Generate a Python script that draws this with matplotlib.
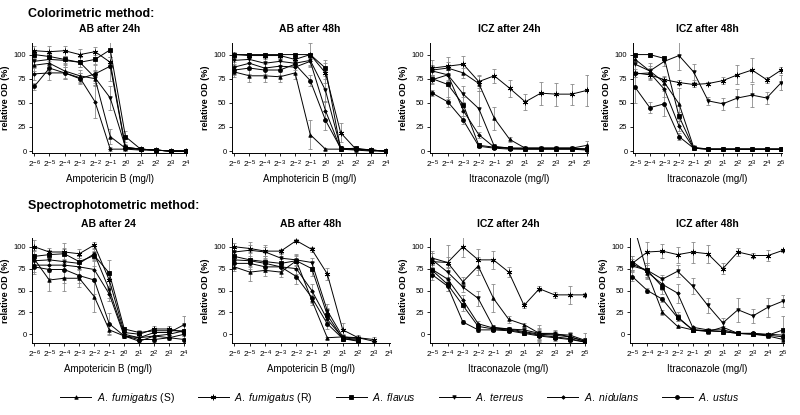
import matplotlib
matplotlib.use("Agg")
import matplotlib.pyplot as plt
import numpy as np
from matplotlib.lines import Line2D

plt.rcParams["font.family"] = ["Liberation Sans", "DejaVu Sans"]
plt.rcParams["mathtext.fontset"] = "custom"
plt.rcParams["mathtext.rm"] = "Liberation Sans"
plt.rcParams["mathtext.it"] = "Liberation Sans:italic"
plt.rcParams["mathtext.bf"] = "Liberation Sans:bold"

nan = np.nan
species = [r"$\it{A.\ fumigatus}$ (S)", r"$\it{A.\ fumigatus}$ (R)", r"$\it{A.\ flavus}$",
           r"$\it{A.\ terreus}$", r"$\it{A.\ nidulans}$", r"$\it{A.\ ustus}$"]
markers = ["^", (6, 2, 0), "s", "v", "D", "o"]
msizes = [2.5, 4, 2.8, 2.5, 1.8, 2.8]

x_ab = list(range(-6, 5))
x_icz = list(range(-5, 6))

# series order: fumS, fumR, flavus, terreus, nidulans, ustus
col_ab24 = [[89, 91, 83, 78, 75, 15, 3, 2, 1, 0, 0],
            [104, 103, 104, 100, 103, 92, 4, 2, 1, 0, 0],
            [100, 98, 95, 92, 95, 105, 15, 2, 1, 0, 0],
            [93, 95, 94, 92, 76, 55, 4, 2, 1, 0, 0],
            [80, 81, 81, 76, 51, 2, 2, 1, 1, 0, 0],
            [67, 86, 81, 75, 80, 88, 3, 2, 1, 0, 0]]
col_ab24_err = [[6, 8, 7, 6, 8, 8, 2, 1, 1, .5, .5],
                [5, 6, 5, 6, 5, 6, 2, 1, 1, .5, .5],
                [4, 5, 4, 5, 5, 8, 6, 1, 1, .5, .5],
                [5, 6, 5, 5, 8, 12, 3, 1, 1, .5, .5],
                [6, 7, 6, 5, 17, 2, 2, 1, 1, .5, .5],
                [4, 5, 6, 6, 9, 15, 3, 1, 1, .5, .5]]

col_ab48 = [[82, 78, 78, 77, 81, 17, 2, 2, 1, 0, 0],
            [100, 99, 99, 99, 95, 100, 81, 19, 2, 1, 0],
            [100, 100, 100, 100, 100, 100, 86, 2, 3, 1, 0],
            [94, 95, 91, 93, 91, 94, 63, 3, 2, 1, 0],
            [87, 91, 86, 88, 87, 93, 42, 2, 2, 1, 0],
            [84, 86, 84, 84, 90, 73, 32, 3, 2, 1, 0]]
col_ab48_err = [[5, 6, 6, 5, 6, 15, 1, 1, 1, .5, .5],
                [3, 3, 3, 3, 4, 12, 10, 10, 1, .5, .5],
                [2, 2, 2, 2, 2, 2, 8, 1, 1, .5, .5],
                [4, 4, 4, 4, 4, 5, 12, 2, 1, .5, .5],
                [5, 6, 6, 5, 6, 6, 10, 1, 1, .5, .5],
                [5, 6, 6, 5, 6, 6, 10, 2, 1, .5, .5]]

col_icz24 = [[84, 86, 81, 70, 34, 12, 3, 3, 3, 3, 6],
             [86, 88, 90, 72, 78, 65, 51, 60, 59, 59, 63],
             [75, 69, 48, 6, 4, 3, 2, 2, 2, 2, 2],
             [83, 79, 59, 44, 5, 3, 3, 3, 3, 3, 2],
             [74, 79, 42, 17, 4, 3, 3, 3, 3, 3, 2],
             [60, 51, 32, 5, 3, 2, 2, 2, 2, 2, 1]]
col_icz24_err = [[5, 6, 5, 8, 12, 3, 1, 1, 1, 1, 4],
                 [8, 10, 9, 7, 7, 9, 8, 12, 12, 11, 16],
                 [4, 15, 8, 2, 1, 1, 1, 1, 1, 1, 1],
                 [5, 6, 8, 18, 2, 1, 1, 1, 1, 1, 1],
                 [5, 5, 6, 3, 1, 1, 1, 1, 1, 1, 1],
                 [3, 5, 4, 2, 1, 1, 1, 1, 1, 1, 1]]

col_icz48 = [[95, 83, 71, 49, 4, 2, 2, 2, 2, 2, 2],
             [81, 79, 74, 71, 69, 70, 73, 79, 84, 74, 84],
             [100, 100, 96, 36, 3, 2, 2, 2, 2, 2, 2],
             [90, 83, 93, 99, 82, 52, 49, 55, 58, 55, 71],
             [80, 81, 64, 26, 3, 2, 2, 2, 2, 2, 2],
             [66, 45, 49, 15, 3, 2, 2, 2, 2, 2, 2]]
col_icz48_err = [[3, 5, 6, 16, 2, 1, 1, 1, 1, 1, 1],
                 [4, 5, 4, 3, 3, 2, 4, 10, 12, 3, 3],
                 [2, 2, 3, 5, 1, 1, 1, 1, 1, 1, 1],
                 [10, 8, 5, 15, 8, 4, 6, 9, 12, 6, 8],
                 [3, 5, 8, 5, 1, 1, 1, 1, 1, 1, 1],
                 [16, 6, 13, 4, 1, 1, 1, 1, 1, 1, 1]]

sp_ab24 = [[86, 62, 64, 64, 43, 5, -2, -4, -2, 0, 4],
           [100, 94, 94, 92, 102, 62, 2, 0, 6, 6, 2],
           [89, 91, 92, 83, 90, 70, 6, 2, 4, 4, 4],
           [84, 85, 83, 81, 92, 51, 0, -4, 2, 2, 11],
           [79, 79, 79, 77, 74, 46, -2, -8, -2, -4, 0],
           [77, 74, 74, 67, 62, 12, -2, -6, -6, -4, -6]]
sp_ab24_err = [[10, 12, 14, 10, 18, 6, 2, 3, 3, 3, 8],
               [8, 5, 10, 5, 3, 8, 2, 3, 3, 3, 4],
               [6, 5, 6, 6, 5, 15, 2, 3, 3, 3, 5],
               [7, 6, 8, 6, 6, 10, 2, 3, 3, 3, 10],
               [8, 8, 20, 12, 10, 8, 2, 3, 3, 3, 4],
               [8, 10, 8, 8, 16, 12, 2, 3, 3, 3, 4]]

sp_ab48 = [[77, 71, 73, 71, 84, 39, -4, -3, -4, -8, nan],
           [100, 98, 95, 95, 107, 97, 69, 5, -4, -6, nan],
           [89, 85, 83, 81, 84, 75, 22, -5, -7, nan, nan],
           [94, 96, 94, 87, 85, 82, 27, -3, -5, nan, nan],
           [85, 84, 81, 77, 75, 50, 17, -4, -6, nan, nan],
           [81, 81, 77, 77, 66, 42, 12, -5, -8, nan, nan]]
sp_ab48_err = [[5, 10, 6, 5, 8, 6, 1, 2, 2, 2, 0],
               [4, 4, 5, 3, 2, 3, 7, 8, 3, 3, 0],
               [5, 8, 6, 5, 6, 8, 8, 3, 3, 0, 0],
               [5, 10, 8, 6, 6, 5, 8, 3, 3, 0, 0],
               [5, 6, 6, 5, 6, 7, 6, 3, 3, 0, 0],
               [5, 6, 6, 5, 8, 6, 6, 3, 3, 0, 0]]

sp_icz24 = [[87, 82, 60, 78, 41, 17, 11, 1, 1, -3, -8],
            [83, 82, 100, 85, 85, 71, 33, 52, 45, 45, 45],
            [73, 57, 33, 9, 6, 5, 2, -1, -3, -5, -9],
            [85, 71, 54, 41, 8, 6, 5, 1, 0, -1, -7],
            [74, 63, 39, 12, 7, 6, 3, 0, -1, -3, -8],
            [68, 55, 14, 5, 5, 4, 1, -2, -4, -6, -9]]
sp_icz24_err = [[8, 6, 5, 10, 16, 4, 2, 6, 4, 4, 4],
                [10, 20, 12, 12, 10, 6, 3, 3, 3, 10, 2],
                [6, 8, 6, 3, 2, 2, 2, 6, 4, 4, 4],
                [8, 6, 6, 9, 2, 2, 2, 10, 4, 4, 8],
                [6, 8, 6, 3, 2, 2, 2, 6, 4, 4, 4],
                [6, 6, 2, 2, 2, 2, 2, 6, 4, 4, 4]]

sp_icz48 = [[130, 70, 25, 9, 5, 3, 8, 1, 0, -2, -6],
            [81, 94, 95, 91, 94, 92, 75, 94, 90, 90, 96],
            [80, 73, 54, 20, 5, 4, 3, 1, 0, -1, 5],
            [78, 73, 63, 72, 55, 33, 13, 28, 21, 31, 38],
            [83, 71, 57, 47, 8, 5, 5, 1, 1, 0, -1],
            [66, 50, 40, 19, 5, 4, 3, 1, 1, -1, -3]]
sp_icz48_err = [[5, 6, 3, 2, 2, 2, 2, 2, 2, 2, 8],
                [8, 12, 8, 9, 12, 10, 6, 5, 3, 6, 2],
                [6, 8, 8, 5, 2, 2, 2, 2, 2, 2, 16],
                [6, 8, 5, 7, 9, 9, 6, 14, 8, 11, 7],
                [6, 8, 6, 11, 2, 2, 2, 2, 2, 2, 6],
                [5, 3, 3, 4, 2, 2, 2, 2, 2, 2, 4]]

panels = [
    (col_ab24, col_ab24_err, x_ab, "AB after 24h", "Ampotericin B (mg/l)", [32, 43, 187, 153]),
    (col_ab48, col_ab48_err, x_ab, "AB after 48h", "Amphotericin B (mg/l)", [232, 43, 387, 153]),
    (col_icz24, col_icz24_err, x_icz, "ICZ after 24h", "Itraconazole (mg/l)", [430, 43, 588, 153]),
    (col_icz48, col_icz48_err, x_icz, "ICZ after 48h", "Itraconazole (mg/l)", [633, 43, 782, 153]),
    (sp_ab24, sp_ab24_err, x_ab, "AB after 24", "Ampotericin B (mg/l)", [32, 238, 185, 343]),
    (sp_ab48, sp_ab48_err, x_ab, "AB after 48h", "Ampotericin B (mg/l)", [232, 238, 390, 343]),
    (sp_icz24, sp_icz24_err, x_icz, "ICZ after 24h", "Itraconazole (mg/l)", [430, 238, 586, 343]),
    (sp_icz48, sp_icz48_err, x_icz, "ICZ after 48h", "Itraconazole (mg/l)", [630, 238, 784, 343]),
]

W, H = 800, 415
fig = plt.figure(figsize=(W / 100, H / 100), dpi=100)

for i, (data, errs, xs, title, xlabel, box) in enumerate(panels):
    l, t, r, b = box
    ax = fig.add_axes([l / W, 1 - b / H, (r - l) / W, (b - t) / H])
    for k, (vals, e) in enumerate(zip(data, errs)):
        ax.errorbar(xs, vals, yerr=e, color="black", lw=0.7, marker=markers[k], ms=msizes[k],
                    mfc="black", mec="black", mew=0.6, ecolor="#8a8a8a", elinewidth=0.6,
                    capsize=1.5, capthick=0.6)
    top_row = i < 4
    ax.set_ylim((-2, 112) if top_row else (-10, 110))
    ax.set_xlim(xs[0] - 0.15, xs[-1] + 0.05)
    ax.set_yticks([0, 25, 50, 75, 100])
    ax.set_xticks(xs)
    ax.set_xticklabels([f"$2^{{{v}}}$" for v in xs])
    for s in ("top", "right"):
        ax.spines[s].set_visible(False)
    for s in ("left", "bottom"):
        ax.spines[s].set_linewidth(0.7)
    ax.tick_params(direction="out", length=2.5, width=0.6, labelsize=5.5, pad=1.5)
    ax.tick_params(axis="x", labelsize=6)
    ax.set_title(title, fontsize=7.5, fontweight="bold", pad=8)
    ax.set_xlabel(xlabel, fontsize=7, labelpad=3)
    ax.set_ylabel("relative OD (%)", fontsize=6.5, fontweight="bold", labelpad=3)

fig.text(28 / W, 1 - 14 / H, "Colorimetric method:", fontsize=9, fontweight="bold", va="center")
fig.text(28 / W, 1 - 206 / H, "Spectrophotometric method:", fontsize=9, fontweight="bold", va="center")

handles = [Line2D([], [], color="black", lw=0.7, marker=markers[k], ms=msizes[k],
                  mfc="black", mec="black", mew=0.6) for k in range(6)]
fig.legend(handles, species, loc="center", bbox_to_anchor=(0.5, 1 - 398 / H), ncol=6,
           frameon=False, fontsize=7.5, handlelength=3, columnspacing=2.2, handletextpad=0.5)

fig.savefig("out.png", dpi=100)
